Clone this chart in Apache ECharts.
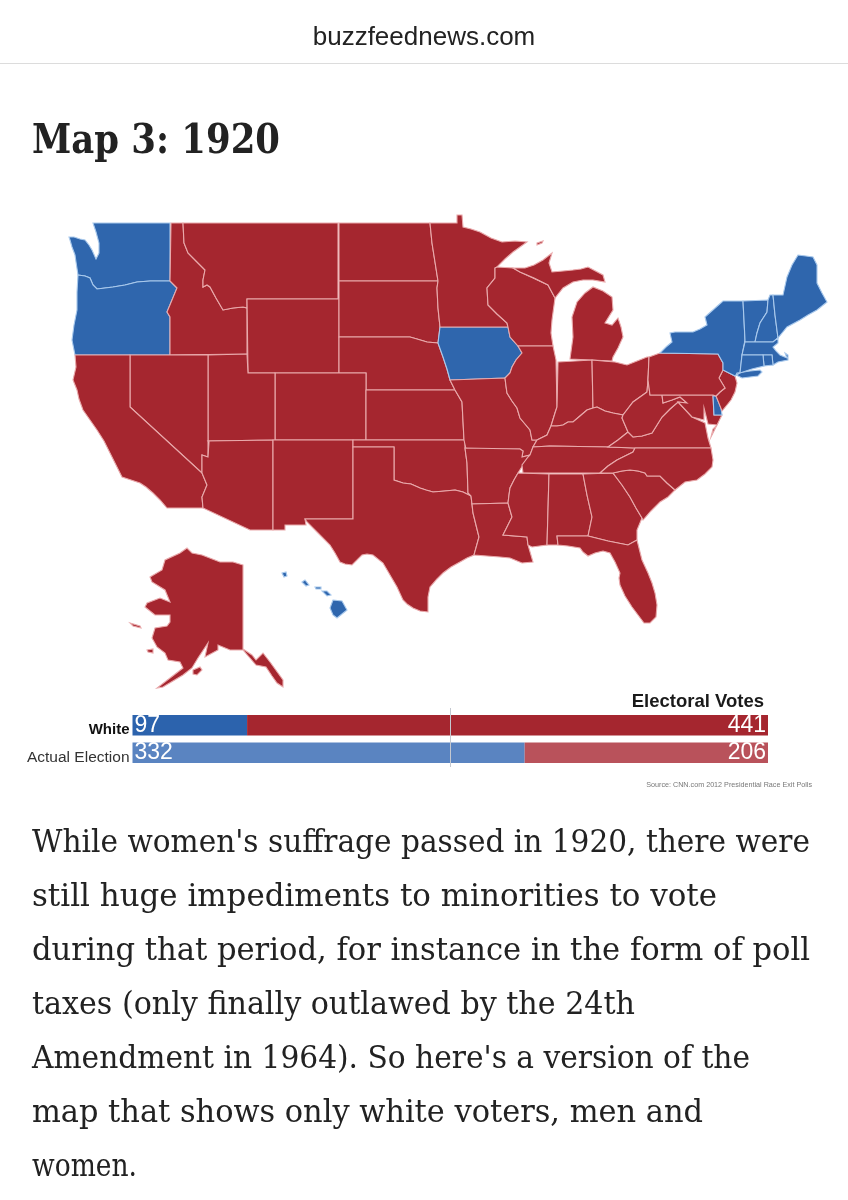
<!DOCTYPE html>
<html><head><meta charset="utf-8">
<style>html,body{margin:0;padding:0;background:#fff}#c{width:848px;height:1200px}</style>
<script src="https://cdn.jsdelivr.net/npm/echarts@6/dist/echarts.min.js"></script>
</head><body><div id="c"></div>
<script>
// ---- data ----
const blueStates = ['WA','OR','IA','NY','VT','NH','ME','MA','RI','CT','DE','HI'];
const redStates = ['ID','MT','WY','ND','SD','NE','CO','UT','NV','CA','AZ','NM','KS','OK','TX','MN','MO','AR','LA','WI','IL','MI','IN','OH','KY','TN','MS','AL','GA','SC','NC','FL','VA','WV','MD','PA','NJ','AK'];
const barCategories = ['White','Actual Election'];
const demVotes = [97, 332];
const repVotes = [441, 206];
const majorityLine = 269;
const totalVotes = 538;
const headerText = 'buzzfeednews.com';
const titleText = 'Map 3: 1920';
const bodyLines = [
 "While women's suffrage passed in 1920, there were",
 "still huge impediments to minorities to vote",
 "during that period, for instance in the form of poll",
 "taxes (only finally outlawed by the 24th",
 "Amendment in 1964). So here's a version of the",
 "map that shows only white voters, men and",
 "women."
];
const bodyLineWidths = [778, 685, 778, 603, 718, 671, 105];
// ---- map asset: shared borders and state outlines (planar map units) ----
const borders = {
 WAOR:'78,275 85,276 90,278 93,285 97,289 105,288 113,287 125,285 137,282 150,281 170,281',
 IDMT:'183,223 184,243 188,253 196,261 205,270 203,280 203,287 207,285 210,287 216,298 223,310 233,308 243,307 247,308',
 RED:'394,480 403,483 411,484 420,488 426,490 433,492 445,491 455,490 463,492 471,496',
 MORV:'505,378 506,386 507,393 512,401 517,408 520,418 525,424 530,430 532,440',
 OHIO:'551,426 557,426 563,425 568,422 573,422 580,416 587,410 593,408 597,407 605,411 613,413 623,415',
 IAE:'508,327 510,337 518,346',
 IAE2:'518,346 522,353 516,360 512,367 510,373 505,378',
 SCN:'613,473 622,471 630,470 638,471 645,473 647,476 660,476 667,483 675,490',
 NJW:'723,370 719,378 725,388 720,392 716,396'
};
const shapes = {
 WA:['93,223 170,223 170,281 @-WAOR 76,262 75,255 72,247 70,240 69,237 74,237 80,239 85,240 89,245 92,250 96,259 99,253 99,243 96,232'],
 OR:['@WAOR 177,288 172,300 167,312 170,317 170,355 75,355 72,340 74,325 77,310 77,292'],
 ID:['171,223 @IDMT 247,354 170,355 170,317 167,312 172,300 177,288 170,281'],
 MT:['@IDMT 247,299 338,299 338,223'],
 WY:['247,299 339,299 339,373 248,373'],
 ND:['339,223 430,223 432,243 435,262 438,281 339,281'],
 SD:['339,281 438,281 437,288 438,308 440,327 438,343 427,342 417,339 410,337 339,337'],
 NE:['339,337 410,337 417,339 427,342 438,343 443,357 447,369 450,380 455,390 366,390 366,373 339,373'],
 CO:['275,373 366,373 366,440 275,440'],
 UT:['208,355 247,354 248,373 275,373 275,440 208,441'],
 NV:['130,355 208,355 208,441 209,442 208,457 202,455 202,473 130,407'],
 CA:['75,355 130,355 130,407 202,473 207,485 202,497 203,508 172,508 167,508 160,500 153,493 146,487 140,483 131,480 122,477 116,465 110,453 104,441 97,430 90,420 83,410 79,399 77,390 73,380 76,367'],
 AZ:['208,441 273,440 273,530 250,530 203,508 202,497 207,485 202,473 202,455 208,457 209,442'],
 NM:['273,440 353,440 353,519 305,519 306,525 285,525 285,530 273,530'],
 KS:['366,390 455,390 462,402 464,440 366,440'],
 OK:['353,440 465,440 465,448 467,463 468,493 471,496 @-RED 394,447 353,447'],
 TX:['353,447 394,447 @RED 473,513 476,525 479,537 474,555 467,558 460,562 451,567 443,573 437,579 430,587 428,597 428,612 420,611 413,608 407,604 403,600 397,587 390,575 383,563 373,555 367,554 362,555 352,565 345,564 340,562 335,553 330,545 318,533 307,522 305,519 353,519'],
 IA:['440,327 @IAE @IAE2 450,380 447,369 443,357 438,343'],
 MN:['430,223 457,223 457,215 462,215 463,227 471,229 480,232 491,238 502,242 515,241 527,242 520,247 513,252 505,259 497,267 495,268 495,278 487,288 488,305 497,314 507,323 508,327 440,327 438,308 437,288 438,281 435,262 432,243'],
 MO:['450,380 @MORV 537,440 533,447 530,455 522,457 523,451 520,449 466,449 464,440 462,402 455,390'],
 AR:['465,448 466,449 520,449 523,451 522,457 530,455 528,457 523,465 518,473 514,480 510,488 509,495 508,503 472,504 471,496 468,493 467,463'],
 LA:['472,504 508,503 512,517 503,535 527,537 528,545 533,562 522,563 510,558 500,557 487,556 474,555 479,537 476,525 473,513'],
 WI:['495,268 497,267 513,268 520,272 548,285 555,298 552,320 551,333 553,346 518,346 510,337 508,327 507,323 497,314 488,305 487,288 495,278'],
 IL:['518,346 553,346 556,360 557,407 555,413 551,426 547,435 537,440 532,440 530,430 525,424 520,418 517,408 512,401 507,393 506,386 505,378 510,373 512,367 516,360 522,353'],
 MI:['570,359 573,337 572,317 577,302 585,293 593,287 603,291 612,297 613,310 605,323 612,325 618,318 621,327 623,337 618,348 613,357 612,361','513,268 525,268 534,265 543,260 552,253 549,263 552,272 563,271 573,270 581,269 588,267 603,275 605,282 593,280 583,280 573,282 563,288 555,298 548,285 534,278 520,272','537,243 543,241 542,243 537,245'],
 IN:['558,362 592,360 593,408 587,410 580,416 573,422 568,422 563,425 557,426 551,426 555,413 557,407'],
 OH:['592,360 603,361 615,362 627,365 637,361 647,357 649,357 648,380 647,392 640,397 633,402 623,415 613,413 605,411 597,407 593,408'],
 KY:['@OHIO 622,418 625,425 628,432 618,440 608,447 550,446 533,447 537,440 547,435'],
 TN:['533,447 550,446 608,447 635,448 633,452 625,456 617,460 608,466 600,473 523,473 522,465 528,457 530,455'],
 VA:['608,447 618,440 628,432 633,437 642,436 652,433 657,425 662,417 670,409 678,402 692,417 705,423 708,438 711,448 635,448','717,425 711,437 713,429'],
 WV:['647,392 640,397 633,402 623,415 622,418 625,425 628,432 633,437 642,436 652,433 657,425 662,417 670,409 678,402 687,403 680,397 672,400 663,403 662,395 650,395 648,380'],
 MD:['662,395 713,395 714,415 722,415 717,425 708,424 704,408 704,420 692,417 678,402 687,403 680,397 672,400 663,403'],
 DE:['713,396 716,396 721,408 722,415 714,415'],
 NJ:['@NJW 722,411 727,405 731,400 735,392 737,383 735,376'],
 PA:['649,357 660,353 718,354 723,363 @NJW 713,395 650,395 648,380'],
 NY:['660,353 666,347 672,342 670,333 675,332 693,332 700,329 707,325 705,317 714,309 723,301 743,301 744,320 745,340 742,355 740,373 735,376 723,370 723,363 718,354','737,373 750,371 760,370 762,372 758,376 742,378 736,375'],
 VT:['743,301 768,300 767,312 760,323 757,333 755,342 745,342 745,340 744,320'],
 NH:['768,300 770,295 773,295 775,315 778,338 773,342 755,342 757,333 760,323 767,312'],
 ME:['773,295 783,295 785,286 787,277 792,265 798,255 806,256 813,257 817,265 817,283 822,293 827,302 817,310 808,315 800,320 787,327 778,338 775,315'],
 MA:['745,342 773,342 778,338 778,343 773,347 776,351 780,355 787,358 785,353 788,355 788,360 778,362 773,365 772,355 742,355'],
 RI:['763,355 772,355 773,365 764,366'],
 CT:['742,355 763,355 764,366 752,369 740,373'],
 MS:['518,473 549,474 548,510 547,545 532,547 528,545 527,537 503,535 512,517 508,503 509,495 510,488 514,480'],
 AL:['549,474 583,474 587,495 592,517 588,536 557,536 558,545 553,545 547,545 548,510'],
 GA:['583,474 613,473 622,485 630,497 636,508 642,518 637,530 637,540 628,545 608,541 588,536 592,517 587,495'],
 SC:['@SCN 668,497 660,502 651,511 643,520 642,518 636,508 630,497 622,485'],
 NC:['635,448 711,448 713,460 712,467 705,474 697,480 685,482 @-SCN 600,473 608,466 617,460 625,456 633,452'],
 FL:['557,536 588,536 608,541 628,545 637,540 642,560 648,573 652,583 655,593 657,605 656,617 650,623 644,623 638,615 632,607 625,596 620,585 619,578 620,573 615,562 610,553 603,551 595,553 588,556 583,552 580,548 568,546 558,545'],
 AK:['243,565 233,562 220,562 202,555 192,553 187,548 180,553 165,560 162,570 150,577 152,582 165,590 170,602 160,598 147,603 145,607 155,615 170,615 170,622 167,626 155,628 152,638 157,647 165,653 168,660 180,662 183,668 170,678 157,688 163,687 183,675 192,668 198,658 208,643 205,657 218,650 218,645 230,650 243,650 256,665 266,667 272,676 277,683 283,687 283,680 270,662 263,653 256,660 252,655 243,649','193,670 200,667 202,670 197,675 193,674','130,623 140,626 141,628 133,626','147,650 153,649 153,653 148,652'],
 HI:['282,573 286,572 287,576 284,577','302,582 305,580 309,585 306,586','315,587 321,587 321,589 316,589','322,591 327,591 331,595 327,596','333,600 342,601 347,610 337,618 333,615 330,608']
};
// ---- build ----
function ring(s){
  const out=[];
  s.trim().split(/\s+/).forEach(t=>{
    if(t[0]==='@'){
      const rev=t[1]==='-';
      const pts=borders[t.slice(rev?2:1)].split(' ').map(p=>p.split(',').map(Number));
      if(rev)pts.reverse();
      out.push(...pts);
    } else out.push(t.split(',').map(Number));
  });
  const r=out.map(p=>[p[0],-p[1]]);
  r.push(r[0]);
  return r;
}
const geo={type:'FeatureCollection',features:Object.keys(shapes).map(k=>({
  type:'Feature',properties:{name:k},
  geometry:{type:'MultiPolygon',coordinates:shapes[k].map(s=>[ring(s)])}
}))};
echarts.registerMap('us',geo);
const RED='#a5262f',BLUE='#2f66ad';
const mapData=[
 ...redStates.map(n=>({name:n,value:0,itemStyle:{areaColor:RED,color:RED,borderColor:'#e9a9ab',borderWidth:1.1}})),
 ...blueStates.map(n=>({name:n,value:1,itemStyle:{areaColor:BLUE,color:BLUE,borderColor:'#a9c9ec',borderWidth:1.1}}))
];
const SERIF='"DejaVu Serif Condensed","DejaVu Serif"',SANS='"Liberation Sans"';
const mctx=document.createElement('canvas').getContext('2d');
function fit(t,font,w){mctx.font=font;return w/mctx.measureText(t).width;}
function txt(t,x,y,font,fill,align){
  return {type:'text',silent:true,x,y,style:{text:t,font,fill,textAlign:align||'left',textVerticalAlign:'middle'}};
}
const bodyFont='32px '+SERIF, titleFont='bold 41px '+SERIF;
const graphics=[
  txt(headerText,424,38,'26px '+SANS,'#222','center'),
  {type:'rect',silent:true,shape:{x:0,y:63,width:848,height:1},style:{fill:'#dcdcdc'}},
  Object.assign(txt(titleText,32,142,titleFont,'#222'),{scaleX:fit(titleText,titleFont,248)}),
  txt('Electoral Votes',764,702,'bold 18.5px '+SANS,'#1a1a1a','right'),
  txt('Source: CNN.com 2012 Presidential Race Exit Polls',812,785,'7.2px '+SANS,'#777','right'),
  ...bodyLines.map((l,i)=>Object.assign(txt(l,32,844+i*53.9,bodyFont,'#222'),{scaleX:fit(l,bodyFont,bodyLineWidths[i])}))
];
const chart=echarts.init(document.getElementById('c'),null,{renderer:'canvas'});
chart.setOption({
  animation:false,
  backgroundColor:'#fff',
  graphic:graphics,
  grid:{left:132.5,top:711.5,width:635.5,height:55,containLabel:false},
  xAxis:{type:'value',min:0,max:totalVotes,show:false},
  yAxis:{type:'category',inverse:true,data:barCategories,
    axisLine:{show:false},axisTick:{show:false},
    axisLabel:{margin:3,fontFamily:SANS,color:'#222',fontSize:14,
      formatter:v=>v==='White'?'{b|'+v+'}':'{n|'+v+'}',
      rich:{b:{fontWeight:'bold',fontSize:15,fontFamily:SANS,color:'#111',padding:[9,0,0,0]},n:{fontSize:15.5,fontFamily:SANS,color:'#333',padding:[9,0,0,0]}}}},
  series:[
    {type:'map',map:'us',left:0,top:0,width:848,height:1200,aspectScale:1,
     boundingCoords:[[0,0],[848,-1200]],roam:false,silent:true,
     label:{show:false},emphasis:{disabled:true},select:{disabled:true},data:mapData},
    {type:'bar',stack:'v',barWidth:20.5,data:demVotes.map((v,i)=>({value:v,itemStyle:{color:i?'#5a84c1':'#2c63ad'}})),
     label:{show:true,position:'insideLeft',distance:2,color:'#fff',fontSize:23,fontFamily:SANS}},
    {type:'bar',stack:'v',barWidth:20.5,data:repVotes.map((v,i)=>({value:v,itemStyle:{color:i?'#b9525b':'#a5262f'}})),
     label:{show:true,position:'insideRight',distance:2,color:'#fff',fontSize:23,fontFamily:SANS},
     markLine:{silent:true,symbol:'none',label:{show:false},animation:false,
       lineStyle:{color:'#c4c8d0',width:1,type:'solid'},
       data:[[{xAxis:majorityLine,y:708},{xAxis:majorityLine,y:767}]]}}
  ]
});
</script></body></html>
